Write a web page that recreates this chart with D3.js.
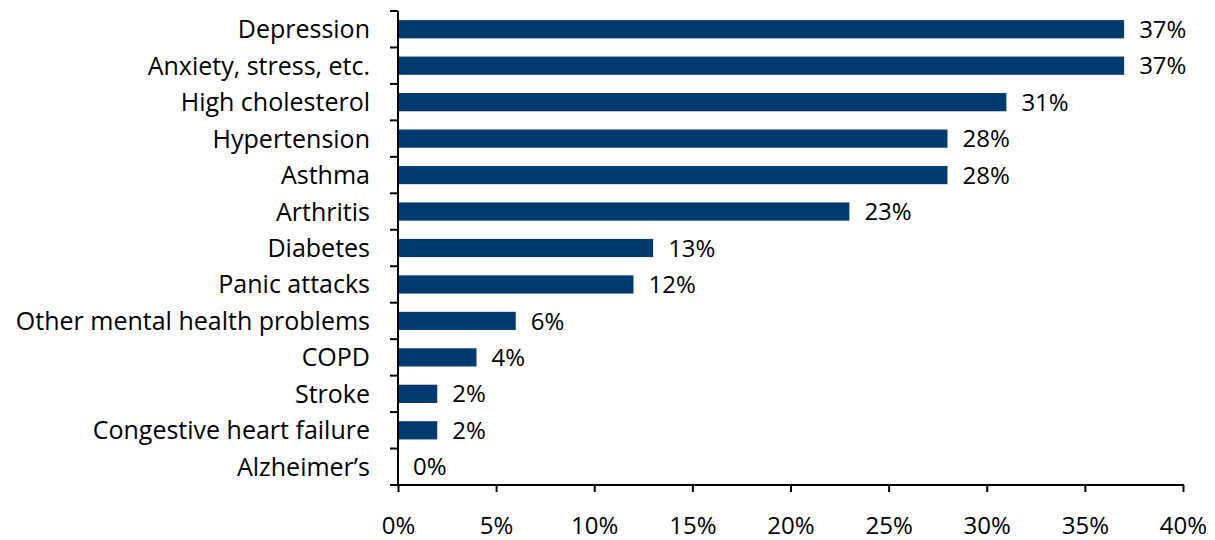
<!DOCTYPE html>
<html><head><meta charset="utf-8">
<script src="https://cdn.jsdelivr.net/npm/d3@7"></script>
<style>body{margin:0;background:#fff}text{font-family:"Open Sans",Lato,sans-serif;fill:#000}</style>
</head><body><svg id="c" width="1215" height="540"></svg>
<script>
const categories = ["Depression","Anxiety, stress, etc.","High cholesterol","Hypertension","Asthma","Arthritis","Diabetes","Panic attacks","Other mental health problems","COPD","Stroke","Congestive heart failure","Alzheimer\u2019s"];
const values = [37,37,31,28,28,23,13,12,6,4,2,2,0];
const xTicks = [0,5,10,15,20,25,30,35,40];

const svg = d3.select("#c");
const mL = 398, mR = 1183, mT = 11, mB = 485;
const x = d3.scaleLinear().domain([0,40]).range([mL,mR]);
const y = d3.scaleBand().domain(categories).range([mT,mB]).paddingInner(0.5).paddingOuter(0.25);
const fs = 24, fsCat = 25;

svg.selectAll("rect.bar").data(values).join("rect")
  .attr("x", x(0)).attr("y",(d,i)=>y(categories[i]))
  .attr("width",d=>x(d)-x(0)).attr("height",y.bandwidth())
  .attr("fill","#003a6f");

svg.selectAll("text.val").data(values).join("text")
  .attr("class","val")
  .attr("x",d=>x(d)+15).attr("y",(d,i)=>y(categories[i])+y.bandwidth()/2)
  .attr("dy","0.36em").attr("font-size",fs)
  .text(d=>d+"%");

// y-axis
const step = (mB-mT)/categories.length;
svg.append("line").attr("x1",mL).attr("x2",mL).attr("y1",mT).attr("y2",mB).attr("stroke","#000").attr("stroke-width",2);
d3.range(categories.length+1).forEach(i=>{
  svg.append("line").attr("x1",mL-8).attr("x2",mL).attr("y1",mT+i*step).attr("y2",mT+i*step).attr("stroke","#000").attr("stroke-width",2);
});
svg.selectAll("text.cat").data(categories).join("text")
  .attr("class","cat")
  .attr("x",mL-28).attr("y",d=>y(d)+y.bandwidth()/2)
  .attr("dy","0.36em").attr("text-anchor","end").attr("font-size",fsCat)
  .text(d=>d);

// x-axis
const xAxis = d3.axisBottom(x).tickValues(xTicks).tickFormat(d=>d+"%").tickSize(7).tickSizeOuter(0);
const gx = svg.append("g").attr("transform",`translate(0,${mB})`).call(xAxis);
gx.attr("font-family",null).attr("font-size",null);
gx.select(".domain").attr("stroke","#000").attr("stroke-width",2).attr("d",`M${mL-1},0H${mR+1}`);
gx.selectAll(".tick line").attr("stroke","#000").attr("stroke-width",2);
gx.selectAll(".tick text").attr("font-size",fs).attr("y",40).attr("dy","0.36em").attr("fill","#000");
</script></body></html>
